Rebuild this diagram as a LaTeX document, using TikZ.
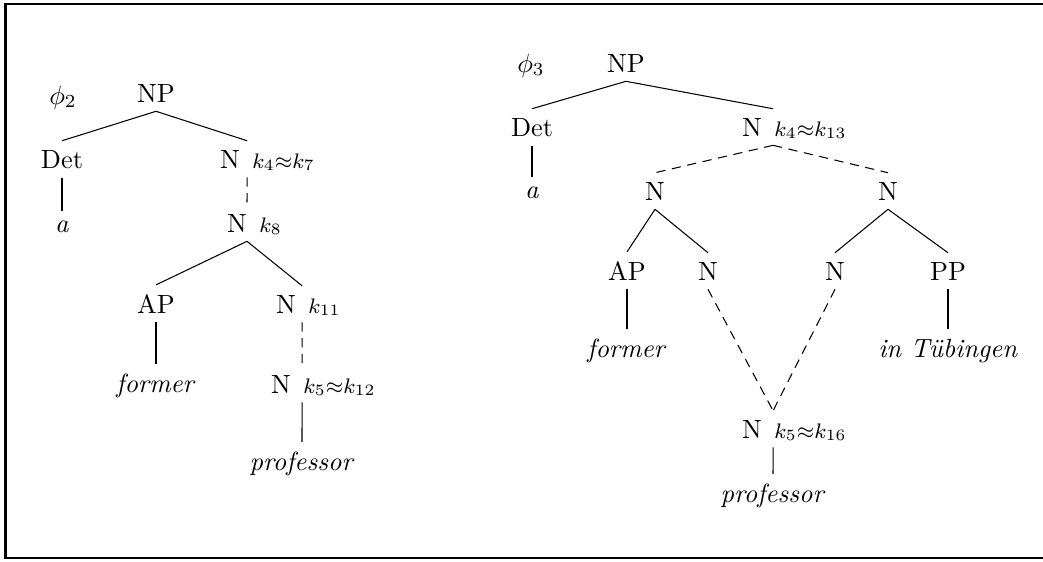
\documentclass[tikz,border=0pt]{standalone}
\usepackage{amsmath}

\tikzset{
    cat/.style={anchor=base},
    ann/.style={anchor=base west, inner sep=1pt, font=\footnotesize},
    branch/.style={line width=0.4pt},
    corefer/.style={line width=0.4pt, dash pattern=on 3.5pt off 2.5pt},
}

\begin{document}
\begin{tikzpicture}[x=0.38pt, y=-0.38pt]
        \useasboundingbox (0,0) rectangle (1043,561);
        \draw[line width=1.1pt] (5.5,4) rectangle (1050,558);

        % left tree
        \node[cat] (phi2) at (63,104) {$\phi_2$};
        \node[cat] (npA) at (156,102) {NP};
        \node[cat] (detA) at (62,168) {Det};
        \node[cat] (aA) at (62,232) {\textit{a}};
        \node[cat] (nA1) at (230,168) {N};
        \node[ann] (kA1) at (nA1.base east) {$k_4{\approx}k_7$};
        \node[cat] (nA2) at (237,232) {N};
        \node[ann] (kA2) at (nA2.base east) {$k_8$};
        \node[cat] (apA) at (156,313) {AP};
        \node[cat] (nA3) at (286,313) {N};
        \node[ann] (kA3) at (nA3.base east) {$k_{11}$};
        \node[cat] (formerA) at (156,392) {\textit{former}};
        \node[cat] (nA4) at (281,393) {N};
        \node[ann] (kA4) at (nA4.base east) {$k_5{\approx}k_{12}$};
        \node[cat] (profA) at (302,470) {\textit{professor}};

        \draw[branch] (npA.south) -- (detA.north);
        \draw[branch] (npA.south) -- ([xshift=6.5pt]nA1.north);
        \draw[branch] (detA.south) -- (aA.north);
        \draw[corefer] ([xshift=6.5pt]nA1.south) -- ([xshift=3.8pt]nA2.north);
        \draw[branch] ([xshift=3.8pt]nA2.south) -- (apA.north);
        \draw[branch] ([xshift=3.8pt]nA2.south) -- ([xshift=6.1pt]nA3.north);
        \draw[branch] (apA.south) -- (formerA.north);
        \draw[corefer] ([xshift=6.1pt]nA3.south) -- ([xshift=8pt]nA4.north);
        \draw[branch] ([xshift=8pt]nA4.south) -- (profA.north);

        % right tree
        \node[cat] (phi3) at (531,72) {$\phi_3$};
        \node[cat] (npB) at (626,72) {NP};
        \node[cat] (detB) at (532,136) {Det};
        \node[cat] (aB) at (532,198) {\textit{a}};
        \node[cat] (nB1) at (752,136) {N};
        \node[ann] (kB1) at (nB1.base east) {$k_4{\approx}k_{13}$};
        \node[cat] (nB2) at (655,200) {N};
        \node[cat] (nB3) at (888,200) {N};
        \node[cat] (apB) at (627,280) {AP};
        \node[cat] (nB4) at (708,280) {N};
        \node[cat] (nB5) at (835,280) {N};
        \node[cat] (ppB) at (948,280) {PP};
        \node[cat] (formerB) at (627,357) {\textit{former}};
        \node[cat] (tueB) at (948,357) {\textit{in T\"ubingen}};
        \node[cat] (nB6) at (752,438) {N};
        \node[ann] (kB6) at (nB6.base east) {$k_5{\approx}k_{16}$};
        \node[cat] (profB) at (773,502) {\textit{professor}};

        \draw[branch] (npB.south) -- (detB.north);
        \draw[branch] (npB.south) -- ([xshift=8pt]nB1.north);
        \draw[branch] (detB.south) -- (aB.north);
        \draw[corefer] ([xshift=8pt]nB1.south) -- (nB2.north);
        \draw[corefer] ([xshift=8pt]nB1.south) -- (nB3.north);
        \draw[branch] (nB2.south) -- (apB.north);
        \draw[branch] (nB2.south) -- (nB4.north);
        \draw[branch] (nB3.south) -- (nB5.north);
        \draw[branch] (nB3.south) -- (ppB.north);
        \draw[branch] (apB.south) -- (formerB.north);
        \draw[branch] (ppB.south) -- (tueB.north);
        \draw[corefer] (nB4.south) -- ([xshift=8pt]nB6.north);
        \draw[corefer] (nB5.south) -- ([xshift=8pt]nB6.north);
        \draw[branch] ([xshift=8pt]nB6.south) -- (profB.north);
\end{tikzpicture}
\end{document}
